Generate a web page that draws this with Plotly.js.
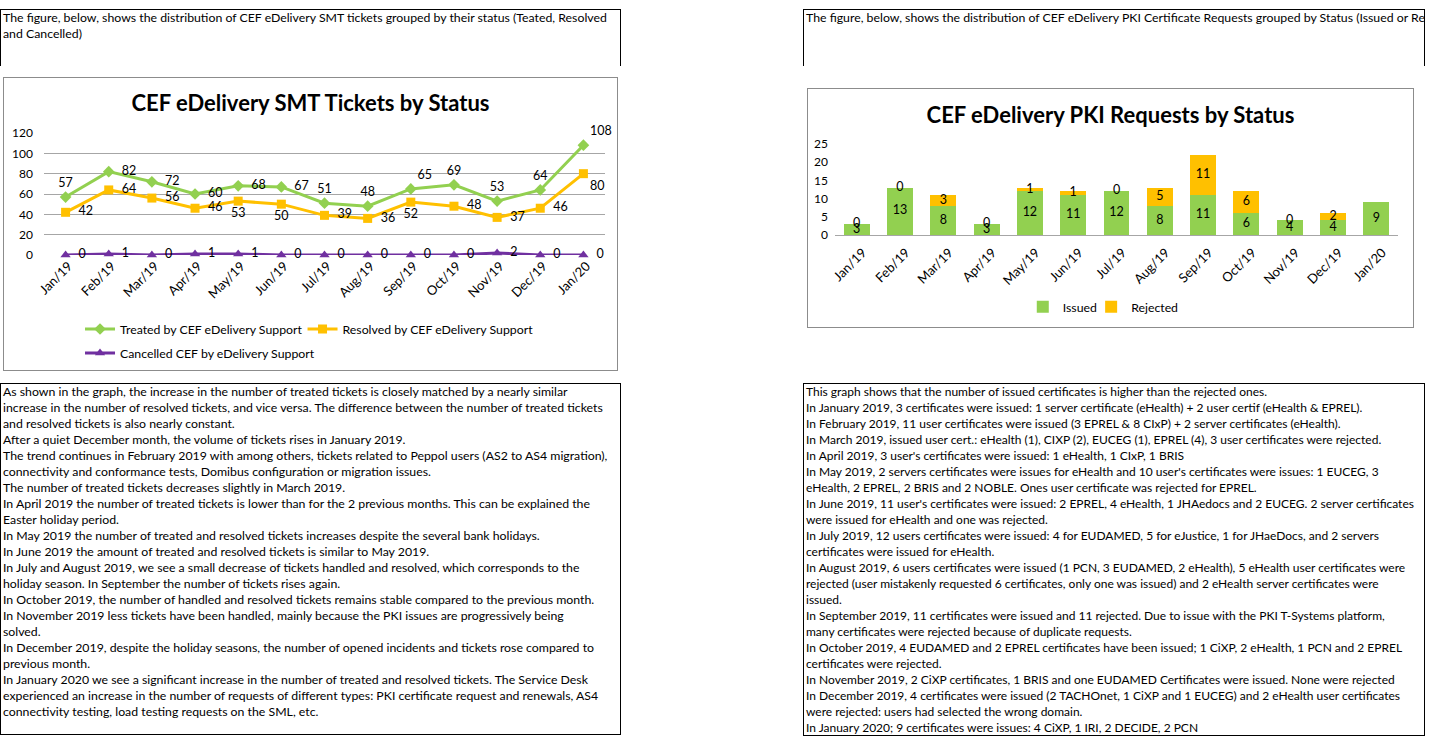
<!DOCTYPE html>
<html><head><meta charset="utf-8">
<script src="https://cdn.plot.ly/plotly-3.0.1.min.js"></script>
<style>
body{margin:0;background:#fff;font-family:Lato,"Noto Sans",sans-serif;color:#000;}
.box{position:absolute;box-sizing:border-box;font-size:12.3px;line-height:16px;overflow:hidden;white-space:nowrap;}
.box div{padding-left:2px;}
#br{font-size:12px;}
.frame{position:absolute;box-sizing:border-box;border:1px solid #8c8c8c;background:#fff;}
.frame > div{position:absolute;left:0;top:0;}
</style>
</head><body>

<div class="box" id="tl" style="left:0;top:9px;width:621px;height:57px;border-top:1px solid #000;border-right:1px solid #000;border-left:1px solid #000;"></div>
<div class="box" id="tr" style="left:803px;top:9px;width:622px;height:57px;border-top:1px solid #000;border-right:1px solid #000;border-left:1px solid #000;"></div>
<div class="frame" style="left:3px;top:77px;width:615px;height:294px;"><div id="chart1"></div></div>
<div class="frame" style="left:807px;top:88px;width:607px;height:240px;"><div id="chart2"></div></div>
<div class="box" id="bl" style="left:0;top:383px;width:621px;height:352px;border:1px solid #000;"></div>
<div class="box" id="br" style="left:803px;top:383px;width:622px;height:353px;border:1px solid #000;"></div>

<script>
// ---------- data ----------
const months = ["Jan/19","Feb/19","Mar/19","Apr/19","May/19","Jun/19","Jul/19","Aug/19","Sep/19","Oct/19","Nov/19","Dec/19","Jan/20"];
const treated   = [57,82,72,60,68,67,51,48,65,69,53,64,108];
const resolved  = [42,64,56,46,53,50,39,36,52,48,37,46,80];
const cancelled = [0,1,0,1,1,0,0,0,0,0,2,0,0];
const issued    = [3,13,8,3,12,11,12,8,11,6,4,4,9];
const rejected  = [0,0,3,0,1,1,0,5,11,6,0,2,null];

const smtTitle = "CEF eDelivery SMT Tickets by Status";
const pkiTitle = "CEF eDelivery PKI Requests by Status";
const seriesNames = ["Treated by CEF eDelivery Support","Resolved by CEF eDelivery Support","Cancelled CEF by eDelivery Support"];
const pkiNames = ["Issued","Rejected"];

const topLeftText = ["The figure, below, shows the distribution of CEF eDelivery SMT tickets grouped by their status (Teated, Resolved","and Cancelled)"];
const topRightText = ["The figure, below, shows the distribution of CEF eDelivery PKI Certificate Requests grouped by Status (Issued or Rejected)"];
const bottomLeftText = [
"As shown in the graph, the increase in the number of treated tickets is closely matched by a nearly similar",
"increase in the number of resolved tickets, and vice versa. The difference between the number of treated tickets",
"and resolved tickets is also nearly constant.",
"After a quiet December month, the volume of tickets rises in January 2019.",
"The trend continues in February 2019 with among others, tickets related to Peppol users (AS2 to AS4 migration),",
"connectivity and conformance tests, Domibus configuration or migration issues.",
"The number of treated tickets decreases slightly in March 2019.",
"In April 2019 the number of treated tickets is lower than for the 2 previous months. This can be explained the",
"Easter holiday period.",
"In May 2019 the number of treated and resolved tickets increases despite the several bank holidays.",
"In June 2019 the amount of treated and resolved tickets is similar to May 2019.",
"In July and August 2019, we see a small decrease of tickets handled and resolved, which corresponds to the",
"holiday season. In September the number of tickets rises again.",
"In October 2019, the number of handled and resolved tickets remains stable compared to the previous month.",
"In November 2019 less tickets have been handled, mainly because the PKI issues are progressively being",
"solved.",
"In December 2019, despite the holiday seasons, the number of opened incidents and tickets rose compared to",
"previous month.",
"In January 2020 we see a significant increase in the number of treated and resolved tickets. The Service Desk",
"experienced an increase in the number of requests of different types: PKI certificate request and renewals, AS4",
"connectivity testing, load testing requests on the SML, etc."];
const bottomRightText = [
"This graph shows that the number of issued certificates is higher than the rejected ones.",
"In January 2019, 3 certificates were issued: 1 server certificate (eHealth) + 2 user certif (eHealth & EPREL).",
"In February 2019, 11 user certificates were issued (3 EPREL & 8 CIxP) + 2 server certificates (eHealth).",
"In March 2019, issued user cert.:  eHealth (1), CIXP (2), EUCEG (1), EPREL (4), 3 user certificates were rejected.",
"In April 2019, 3 user's certificates were issued: 1 eHealth, 1 CIxP, 1 BRIS",
"In May 2019, 2 servers certificates were issues for eHealth and 10 user's certificates were issues: 1 EUCEG, 3",
"eHealth, 2 EPREL, 2 BRIS and 2 NOBLE. Ones user certificate was rejected for EPREL.",
"In June 2019, 11 user's certificates were issued: 2 EPREL, 4 eHealth, 1 JHAedocs and 2 EUCEG. 2 server certificates",
"were issued for eHealth and one was rejected.",
"In July 2019, 12 users certificates were issued: 4 for EUDAMED, 5 for eJustice, 1 for JHaeDocs, and 2 servers",
"certificates were issued for eHealth.",
"In August 2019, 6 users certificates were issued (1 PCN, 3 EUDAMED, 2 eHealth), 5 eHealth user certificates were",
"rejected (user mistakenly requested 6 certificates, only one was issued) and 2 eHealth server certificates were",
"issued.",
"In September 2019, 11 certificates were issued and 11 rejected. Due to issue with the PKI T-Systems platform,",
"many certificates were rejected because of duplicate requests.",
"In October 2019, 4 EUDAMED and 2 EPREL certificates have been issued; 1 CiXP, 2 eHealth, 1 PCN and 2 EPREL",
"certificates were rejected.",
"In November 2019, 2 CiXP certificates, 1 BRIS and one EUDAMED Certificates were issued. None were rejected",
"In December 2019, 4 certificates were issued (2 TACHOnet, 1 CiXP and 1 EUCEG) and 2 eHealth user certificates",
"were rejected: users had selected the wrong domain.",
"In January 2020; 9 certificates were issues: 4 CiXP, 1 IRI, 2 DECIDE, 2 PCN"];

function fill(id, lines){
  const el = document.getElementById(id);
  lines.forEach(t => { const d = document.createElement('div'); d.textContent = t; el.appendChild(d); });
}
fill('tl', topLeftText); fill('tr', topRightText); fill('bl', bottomLeftText); fill('br', bottomRightText);

// ---------- chart 1 ----------
const FONT = "Lato, 'Noto Sans', sans-serif";
const PAD = "\u00a0\u00a0";
const treatedPos = ["top center","middle right","middle right","middle right","middle right","middle right","top center","top center","top right","top center","top center","top center","top right"];
const resolvedPos = ["middle right","middle right","middle right","middle right","bottom center","bottom center","middle right","middle right","bottom center","middle right","middle right","middle right","bottom right"];
const lab = (vals, pos) => vals.map((v,i) => (pos[i] === "middle right" ? PAD : "") + String(v));

const legendBase = {orientation:'h', xref:'container', yref:'container', xanchor:'left', yanchor:'top', itemwidth:30, font:{size:12.3, color:'#000'}, bgcolor:'rgba(0,0,0,0)'};

const c1 = [
  {x: months, y: treated, name: seriesNames[0], type:'scatter', mode:'lines+markers+text', legend:'legend',
   line:{color:'#92D050', width:3}, marker:{symbol:'diamond', size:9, color:'#92D050'},
   text: lab(treated, treatedPos), textposition: treatedPos, textfont:{size:12.5, color:'#000'}, cliponaxis:false},
  {x: months, y: resolved, name: seriesNames[1], type:'scatter', mode:'lines+markers+text', legend:'legend2',
   line:{color:'#FFC000', width:3}, marker:{symbol:'square', size:9, color:'#FFC000'},
   text: lab(resolved, resolvedPos), textposition: resolvedPos, textfont:{size:12.5, color:'#000'}, cliponaxis:false},
  {x: months, y: cancelled, name: seriesNames[2], type:'scatter', mode:'lines+markers+text', legend:'legend3',
   line:{color:'#7030A0', width:3}, marker:{symbol:'triangle-up', size:9, color:'#7030A0'},
   text: cancelled.map(v => PAD + String(v)), textposition: 'middle right', textfont:{size:12.5, color:'#000'}, cliponaxis:false}
];
const l1 = {
  width: 613, height: 292, margin:{l:40, r:12, t:55, b:115},
  paper_bgcolor:'#fff', plot_bgcolor:'#fff', font:{family:FONT, size:12, color:'#000'},
  title:{text: smtTitle, font:{family:FONT, size:22, color:'#000', weight:'bold'}, x:0.5, xanchor:'center', y:0.915, yanchor:'middle', xref:'container', yref:'container'},
  xaxis:{type:'category', range:[-0.5,12.5], tickangle:-45, showgrid:false, showline:false, zeroline:false, ticks:'', tickfont:{size:13}, ticklabelshift:3},
  yaxis:{range:[0,120], dtick:20, showgrid:true, gridcolor:'#a6a6a6', gridwidth:1, zeroline:false, showline:false, ticks:'', tickfont:{size:12}, ticklabelstandoff:10},
  showlegend:true,
  legend:  Object.assign({}, legendBase, {x:0.124, y:0.19}),
  legend2: Object.assign({}, legendBase, {x:0.487, y:0.19}),
  legend3: Object.assign({}, legendBase, {x:0.124, y:0.108})
};
Plotly.newPlot('chart1', c1, l1, {displayModeBar:false, staticPlot:true});

// ---------- chart 2 ----------
const issuedLabelY = issued.map(v => v/2);
const rejectedLabelY = issued.map((v,i) => rejected[i] === null ? null : v + rejected[i]/2);
const legendBase2 = {orientation:'h', xref:'container', yref:'container', xanchor:'left', yanchor:'middle', y:0.085, itemwidth:30, font:{size:12.3,color:'#000'}, bgcolor:'rgba(0,0,0,0)'};
const c2 = [
  {x: months, y: issued, name: pkiNames[0], type:'bar', marker:{color:'#92D050'}, legend:'legend'},
  {x: months, y: rejected, name: pkiNames[1], type:'bar', marker:{color:'#FFC000'}, legend:'legend2'},
  {x: months, y: issuedLabelY, type:'scatter', mode:'text', text: issued.map(String), textposition:'middle center', textfont:{size:12.5,color:'#000'}, showlegend:false, hoverinfo:'skip', cliponaxis:false},
  {x: months, y: rejectedLabelY, type:'scatter', mode:'text', text: rejected.map(v => v===null ? '' : String(v)), textposition:'middle center', textfont:{size:12.5,color:'#000'}, showlegend:false, hoverinfo:'skip', cliponaxis:false}
];
const l2 = {
  width: 605, height: 238, margin:{l:27, r:15, t:55, b:92},
  barmode:'stack', bargap:0.4,
  paper_bgcolor:'#fff', plot_bgcolor:'#fff', font:{family:FONT, size:12, color:'#000'},
  title:{text: pkiTitle, font:{family:FONT, size:22, color:'#000', weight:'bold'}, x:0.5, xanchor:'center', y:0.89, yanchor:'middle', xref:'container', yref:'container'},
  xaxis:{type:'category', range:[-0.5,12.5], tickangle:-45, showgrid:false, showline:true, linecolor:'#a6a6a6', zeroline:false, ticks:'', tickfont:{size:13}, ticklabelshift:6, ticklabelstandoff:4},
  yaxis:{range:[0,25], dtick:5, showgrid:false, zeroline:false, showline:false, ticks:'', tickfont:{size:12}, ticklabelstandoff:6},
  showlegend:true,
  legend:  Object.assign({}, legendBase2, {x:0.355}),
  legend2: Object.assign({}, legendBase2, {x:0.468})
};
Plotly.newPlot('chart2', c2, l2, {displayModeBar:false, staticPlot:true});
</script>
</body></html>
